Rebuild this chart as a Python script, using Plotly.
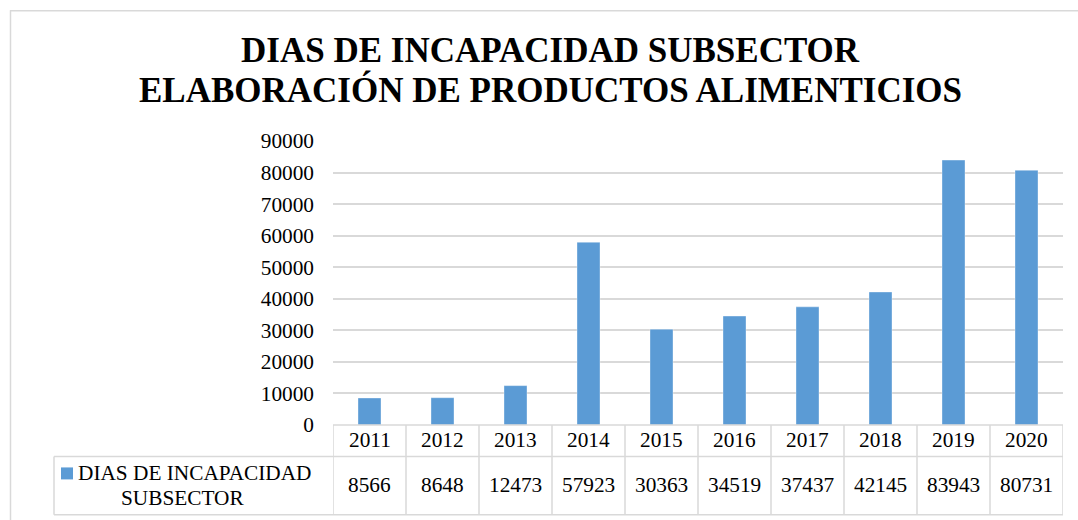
import plotly.graph_objects as go

years = ["2011", "2012", "2013", "2014", "2015", "2016", "2017", "2018", "2019", "2020"]
values = [8566, 8648, 12473, 57923, 30363, 34519, 37437, 42145, 83943, 80731]
series_name = "DIAS DE INCAPACIDAD SUBSECTOR"
title_lines = ["DIAS DE INCAPACIDAD SUBSECTOR", "ELABORACIÓN DE PRODUCTOS ALIMENTICIOS"]
y_ticks = list(range(0, 90001, 10000))

W, H = 1078, 520
L, R, T, B = 333, 1063, 141, 425.5
FONT = "Liberation Serif"
GRID = "#d9d9d9"
BLUE = "#5B9BD5"


def px(x):
    return (x - L) / (R - L)


def py(y):
    return (B - y) / (B - T)


fig = go.Figure()
fig.add_trace(go.Bar(
    x=list(range(len(years))), y=values, name=series_name,
    marker=dict(color=BLUE, line=dict(color="rgba(255,255,255,0.35)", width=1)),
    width=0.315, showlegend=False, hoverinfo="x+y",
))

shapes = []
# outer chart border (top and left edges visible)
shapes.append(dict(type="line", xref="paper", yref="paper",
                   x0=px(10), x1=px(1300), y0=py(10.5), y1=py(10.5),
                   line=dict(color=GRID, width=1.5), layer="below"))
shapes.append(dict(type="line", xref="paper", yref="paper",
                   x0=px(10.5), x1=px(10.5), y0=py(10), y1=py(700),
                   line=dict(color=GRID, width=1.5), layer="below"))
# table horizontal lines
for yy, x0 in [(B, L), (457, 54), (515.5, 54)]:
    shapes.append(dict(type="line", xref="paper", yref="paper",
                       x0=px(x0), x1=px(R), y0=py(yy), y1=py(yy),
                       line=dict(color=GRID, width=1.5)))
# table vertical lines (category boundaries)
for i in range(len(years) + 1):
    shapes.append(dict(type="line", xref="x", yref="paper",
                       x0=i - 0.5, x1=i - 0.5, y0=py(B), y1=py(515.5),
                       line=dict(color=GRID, width=1.5)))
# legend cell left edge
shapes.append(dict(type="line", xref="paper", yref="paper",
                   x0=px(54), x1=px(54), y0=py(457), y1=py(515.5),
                   line=dict(color=GRID, width=1.5)))
# legend key
shapes.append(dict(type="rect", xref="paper", yref="paper",
                   x0=px(61), x1=px(73), y0=py(468), y1=py(480),
                   fillcolor=BLUE, line=dict(width=0)))

annotations = []
tf = dict(family=FONT, size=21.3, color="#000000")
for i, (yr, v) in enumerate(zip(years, values)):
    annotations.append(dict(x=i, y=py(441), xref="x", yref="paper", text=yr,
                            showarrow=False, font=tf, xanchor="center", yanchor="middle"))
    annotations.append(dict(x=i, y=py(486), xref="x", yref="paper", text=str(v),
                            showarrow=False, font=tf, xanchor="center", yanchor="middle"))
annotations.append(dict(x=px(195), y=py(474), xref="paper", yref="paper",
                        text="DIAS DE INCAPACIDAD", showarrow=False, font=tf,
                        xanchor="center", yanchor="middle"))
annotations.append(dict(x=px(182), y=py(499), xref="paper", yref="paper",
                        text="SUBSECTOR", showarrow=False, font=tf,
                        xanchor="center", yanchor="middle"))
titf = dict(family=FONT, size=35, color="#000000")
for ln, yc in zip(title_lines, [50, 90]):
    annotations.append(dict(x=px(550), y=py(yc), xref="paper", yref="paper",
                            text="<b>%s</b>" % ln, showarrow=False, font=titf,
                            xanchor="center", yanchor="middle"))

fig.update_layout(
    width=W, height=H,
    margin=dict(l=L, r=W - R, t=T, b=H - B),
    paper_bgcolor="white", plot_bgcolor="white",
    font=dict(family=FONT, size=21.3, color="#000000"),
    shapes=shapes, annotations=annotations,
    xaxis=dict(range=[-0.5, len(years) - 0.5], showticklabels=False, showgrid=False,
               zeroline=False, showline=False, ticks=""),
    yaxis=dict(range=[0, 90000], tickvals=y_ticks, tickformat="d", showgrid=True,
               gridcolor=GRID, gridwidth=1.5, zeroline=False, showline=False,
               ticks="", ticklabelstandoff=18,
               tickfont=dict(family=FONT, size=21.3, color="#000000")),
    bargap=0.685,
)

fig.write_html(
    "out.html", config={"displayModeBar": False},
    post_script=("document.body.style.margin='0';"
                 "document.body.style.overflow='hidden';"
                 "document.documentElement.style.overflow='hidden';"),
)
